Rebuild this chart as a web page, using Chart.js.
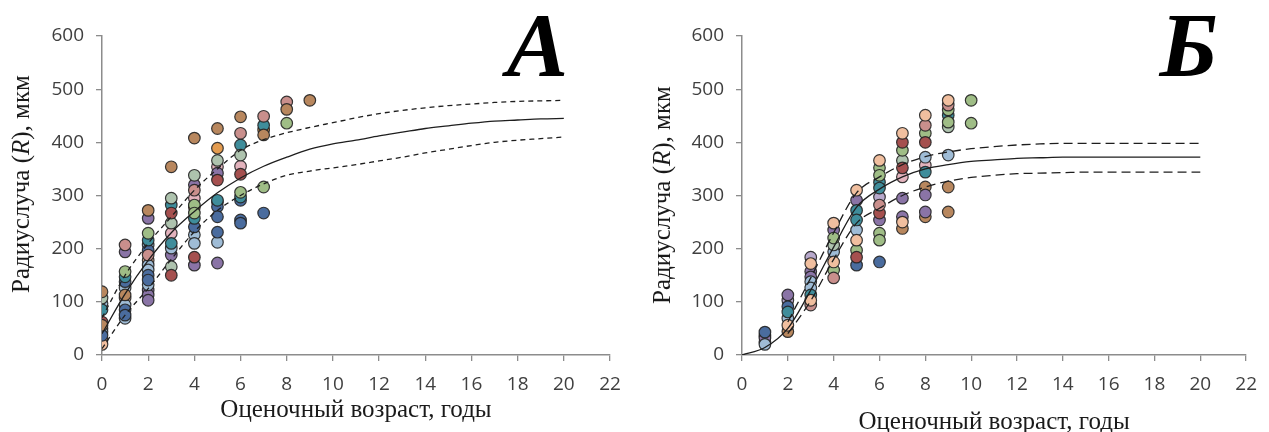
<!DOCTYPE html>
<html>
<head>
<meta charset="utf-8">
<script src="https://cdn.jsdelivr.net/npm/chart.js@4.4.0/dist/chart.umd.min.js"></script>
<style>
body { margin: 0; background: #fff; width: 1269px; height: 432px; overflow: hidden; position: relative; }
.panel { position: absolute; top: 0; height: 432px; }
</style>
</head>
<body>
<div class="panel" style="left:0;width:634px"><canvas id="chartA" width="634" height="432"></canvas></div>
<div class="panel" style="left:634px;width:635px"><canvas id="chartB" width="635" height="432"></canvas></div>
<script>
// возраст (годы) для кривых роста
const ages = [0, 1, 2, 3, 4, 5, 6, 7, 8, 9, 10, 11, 12, 13, 14, 15, 16, 17, 18, 19, 20];
const xTicks = [0, 2, 4, 6, 8, 10, 12, 14, 16, 18, 20, 22];
const yTicks = [0, 100, 200, 300, 400, 500, 600];

// панель A: кривая и доверительные границы
const aMid   = [40, 115, 178, 230, 270, 305, 333, 355, 372, 387, 397, 404, 412, 419, 426, 431, 436, 440, 442, 444, 445];
const aUpper = [70, 150, 210, 260, 310, 350, 385, 405, 418, 428, 437, 446, 454, 460, 465, 469, 472, 475, 477, 478, 479];
const aLower = [12, 75, 125, 180, 232, 272, 300, 322, 338, 346, 352, 358, 365, 372, 380, 387, 394, 400, 404, 407, 410];

// панель Б
const bDashAges = [2, 3, 4, 5, 6, 7, 8, 9, 10, 11, 12, 13, 14, 15, 16, 17, 18, 19, 20];
const bMid   = [0, 14, 50, 122, 203, 278, 312, 335, 350, 358, 364, 367, 370, 371, 372, 372, 372, 372, 372, 372, 372];
const bUpper = [62, 145, 230, 305, 335, 358, 373, 382, 388, 392, 395, 397, 398, 398, 398, 398, 398, 398, 398];
const bLower = [40, 102, 180, 248, 276, 300, 316, 327, 334, 338, 341, 342, 343, 344, 344, 344, 344, 344, 344];

// точки A: [возраст, радиус]
const aBrown = [[0,119],[0,56],[1,113],[2,272],[3,354],[4,408],[5,426],[6,448],[7,414],[8,462],[9,479]];
const aRose = [[1,207],[2,188],[4,310],[6,417],[7,449],[8,476]];
const aDarkRed = [[0,62],[3,267],[3,150],[4,184],[5,329],[6,340]];
const aGreen = [[1,157],[2,229],[4,282],[4,267],[6,306],[7,316],[8,436]];
const aGrayGreen = [[0,107],[3,295],[3,248],[3,166],[4,338],[5,366],[6,376]];
const aTeal = [[0,85],[1,147],[2,216],[3,282],[3,210],[4,257],[5,291],[6,395],[6,297],[7,432]];
const aNavy = [[0,37],[1,138],[1,85],[1,75],[2,197],[2,150],[2,141],[4,241],[5,279],[5,260],[5,231],[6,291],[6,254],[6,248],[7,267]];
const aLightBlue = [[0,97],[0,44],[1,126],[1,94],[1,69],[2,207],[2,169],[2,160],[2,132],[3,201],[4,226],[4,210],[5,288],[5,212]];
const aPurple = [[1,194],[2,257],[2,122],[2,113],[2,103],[3,188],[4,320],[4,169],[5,342],[5,173]];
const aPink = [[0,50],[3,229],[4,295],[5,354],[6,355]];
const aPeach = [[0,28],[0,20],[1,107],[2,178]];
const aOrange = [[4,278],[5,389],[7,423]];

// точки Б
const bPeach = [[2,56],[3,172],[3,103],[4,248],[4,175],[5,310],[5,216],[6,366],[7,417],[7,250],[8,451],[9,479]];
const bRose = [[3,94],[4,145],[6,282],[8,432],[9,470]];
const bDarkRed = [[5,184],[6,267],[7,400],[7,352],[8,400]];
const bGreen = [[4,220],[4,160],[5,197],[6,352],[6,338],[6,229],[6,216],[7,385],[8,417],[9,461],[9,438],[10,479],[10,436]];
const bGrayGreen = [[4,207],[7,366],[9,429]];
const bTeal = [[2,81],[3,113],[5,272],[5,254],[6,325],[6,314],[8,344],[9,451]];
const bNavy = [[1,43],[2,91],[5,169],[6,175]];
const bLightBlue = [[1,20],[2,69],[3,138],[3,126],[4,194],[5,235],[8,372],[9,376]];
const bPurple = [[1,32],[2,113],[3,157],[3,147],[4,235],[5,291],[6,254],[7,295],[7,260],[8,301],[8,269]];
const bLavender = [[1,25],[2,103],[3,184],[6,297]];
const bPink = [[7,335],[8,357]];
const bBrown = [[1,37],[2,44],[7,238],[8,316],[8,260],[9,316],[9,269]];

const colors = {
    brown: '#b8875e', rose: '#c98f8c', darkRed: '#a5504f', green: '#9fbd86',
    grayGreen: '#aec3ae', teal: '#3f8d9b', navy: '#4a6c9e', lightBlue: '#9fbcd6',
    purple: '#8a74a6', pink: '#e3b3bd', peach: '#f1bf9f', orange: '#e39b4f', lavender: '#b8a9cc'
};

function dots(pairs, color) {
    return {
        type: 'scatter',
        data: pairs.map(p => ({ x: p[0], y: p[1] })),
        backgroundColor: color,
        borderColor: 'rgba(35,35,35,0.9)',
        borderWidth: 1.2,
        pointRadius: 5.8,
        order: 2
    };
}

function curve(xs, ys, dash) {
    return {
        type: 'line',
        data: xs.map((x, i) => ({ x: x, y: ys[i] })),
        borderColor: '#1e1e1e',
        borderWidth: 1.3,
        borderDash: dash,
        pointRadius: 0,
        fill: false,
        cubicInterpolationMode: 'monotone',
        order: 1
    };
}

// подписи осей и буква панели
const panelText = {
    id: 'panelText',
    afterDraw(chart, args, o) {
        const ctx = chart.ctx;
        const area = chart.chartArea;
        ctx.save();
        ctx.fillStyle = '#000';
        ctx.textAlign = 'right';
        ctx.textBaseline = 'alphabetic';
        ctx.font = 'bold italic 92px "Liberation Serif"';
        ctx.fillText(o.letter, o.letterX, o.letterY);

        ctx.fillStyle = '#1a1a1a';
        ctx.textAlign = 'center';
        ctx.textBaseline = 'middle';
        ctx.font = '25px "Liberation Serif"';
        ctx.fillText('Оценочный возраст, годы', (area.left + area.right) / 2, o.xTitleY);

        const parts = [['Радиуслуча (', ''], ['R', 'italic '], ['), мкм', '']];
        ctx.translate(o.yTitleX, o.yTitleY);
        ctx.rotate(-Math.PI / 2);
        ctx.textAlign = 'left';
        let total = 0;
        parts.forEach(p => { ctx.font = p[1] + '25px "Liberation Serif"'; total += ctx.measureText(p[0]).width; });
        let x = -total / 2;
        parts.forEach(p => {
            ctx.font = p[1] + '25px "Liberation Serif"';
            ctx.fillText(p[0], x, 0);
            x += ctx.measureText(p[0]).width;
        });
        ctx.restore();
    }
};

function makeChart(id, datasets, yAxisWidth, padRight, dashText) {
    const axisColor = '#8c8c8c';
    const tickFont = { family: '"Open Sans"', size: 19 };
    new Chart(document.getElementById(id).getContext('2d'), {
        type: 'scatter',
        data: { datasets: datasets },
        options: {
            responsive: false,
            animation: false,
            layout: { padding: { left: 0, right: padRight, top: 36, bottom: 0 } },
            plugins: { legend: { display: false }, tooltip: { enabled: false }, panelText: dashText },
            scales: {
                x: {
                    type: 'linear', min: 0, max: 22,
                    afterBuildTicks: s => { s.ticks = xTicks.map(v => ({ value: v })); },
                    ticks: { font: tickFont, color: '#3f3f3f', padding: 12, maxRotation: 0 },
                    grid: { drawOnChartArea: false, tickLength: 6, color: axisColor, lineWidth: 1.3 },
                    border: { color: axisColor, width: 1.5 },
                    afterFit: s => { s.height = 77; }
                },
                y: {
                    type: 'linear', min: 0, max: 600,
                    afterBuildTicks: s => { s.ticks = yTicks.map(v => ({ value: v })); },
                    ticks: { font: tickFont, color: '#3f3f3f', padding: 12 },
                    grid: { drawOnChartArea: false, tickLength: 6, color: axisColor, lineWidth: 1.3 },
                    border: { color: axisColor, width: 1.5 },
                    afterFit: s => { s.width = yAxisWidth; }
                }
            }
        },
        plugins: [panelText]
    });
}

makeChart('chartA', [
    dots(aBrown, colors.brown), dots(aRose, colors.rose), dots(aDarkRed, colors.darkRed),
    dots(aGreen, colors.green), dots(aGrayGreen, colors.grayGreen), dots(aTeal, colors.teal),
    dots(aNavy, colors.navy), dots(aLightBlue, colors.lightBlue), dots(aPurple, colors.purple),
    dots(aPink, colors.pink), dots(aPeach, colors.peach), dots(aOrange, colors.orange),
    curve(ages, aMid, []), curve(ages, aUpper, [5, 4]), curve(ages, aLower, [5, 4])
], 102, 24, { letter: 'A', letterX: 568, letterY: 76, xTitleY: 410, yTitleX: 22, yTitleY: 184 });

makeChart('chartB', [
    dots(bPeach, colors.peach), dots(bRose, colors.rose), dots(bDarkRed, colors.darkRed),
    dots(bGreen, colors.green), dots(bGrayGreen, colors.grayGreen), dots(bTeal, colors.teal),
    dots(bNavy, colors.navy), dots(bLightBlue, colors.lightBlue), dots(bPurple, colors.purple),
    dots(bLavender, colors.lavender), dots(bPink, colors.pink), dots(bBrown, colors.brown),
    curve(ages, bMid, []), curve(bDashAges, bUpper, [9, 5]), curve(bDashAges, bLower, [9, 5])
], 108, 11, { letter: 'Б', letterX: 584, letterY: 76, xTitleY: 422, yTitleX: 29, yTitleY: 195 });
</script>
</body>
</html>
